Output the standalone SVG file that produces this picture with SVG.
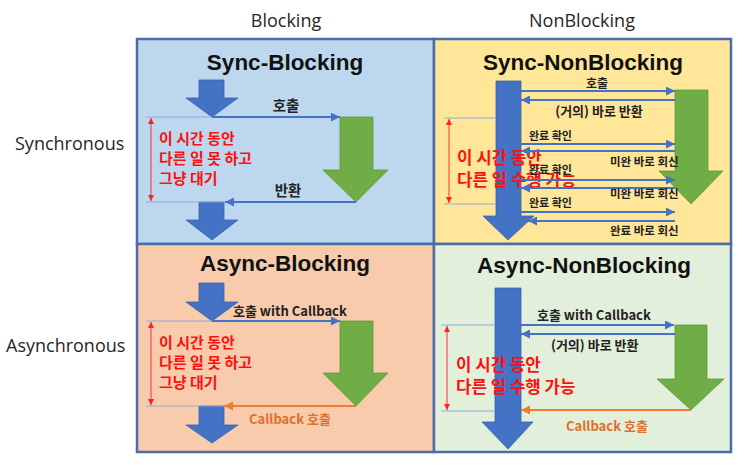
<svg xmlns="http://www.w3.org/2000/svg" width="752" height="476" viewBox="0 0 752 476">
<style>
.hdr{font-family:"Open Sans","Noto Sans",sans-serif;font-size:18px;fill:#262626}
.ttl{font-family:"Liberation Sans",Arial,sans-serif;font-weight:bold;font-size:22.5px;fill:#111;text-anchor:middle}
.lbl{font-family:"Noto Sans CJK KR","Noto Sans",sans-serif;font-weight:bold;fill:#222}
.org{font-family:"Noto Sans CJK KR","Noto Sans",sans-serif;font-weight:bold;fill:#E0702A}
.red{font-family:"Noto Sans CJK KR",sans-serif;font-weight:bold;fill:#FF1010}
.cell{stroke:#4A6CA8;stroke-width:2.5}
.blue{fill:#4472C4;stroke:#3A62AA;stroke-width:0.8}
.green{fill:#70AD47;stroke:#5E9A3A;stroke-width:0.8}
.cb{stroke:#4472C4;stroke-width:2.2;fill:none;marker-end:url(#ab)}
.co{stroke:#ED7D31;stroke-width:2.2;fill:none;marker-end:url(#ao)}
.guide{stroke:#8EAADB;stroke-width:1;fill:none}
.rv{stroke:#FF3030;stroke-width:1;fill:none;marker-start:url(#ar);marker-end:url(#ar)}
</style>
<defs>
<marker id="ab" viewBox="0 0 10 10" refX="10" refY="5" markerWidth="10" markerHeight="9" markerUnits="userSpaceOnUse" orient="auto"><path d="M0,0 L10,5 L0,10 z" fill="#4472C4"/></marker>
<marker id="ao" viewBox="0 0 10 10" refX="10" refY="5" markerWidth="10" markerHeight="9" markerUnits="userSpaceOnUse" orient="auto"><path d="M0,0 L10,5 L0,10 z" fill="#ED7D31"/></marker>
<marker id="ar" viewBox="0 0 10 10" refX="10" refY="5" markerWidth="7" markerHeight="6" markerUnits="userSpaceOnUse" orient="auto-start-reverse"><path d="M0,0 L10,5 L0,10 z" fill="#FF2020"/></marker>
</defs>
<rect width="752" height="476" fill="#FFFFFF"/>

<g id="headers">
<text class="hdr" x="286" y="27" text-anchor="middle">Blocking</text>
<text class="hdr" x="582" y="27" text-anchor="middle">NonBlocking</text>
<text class="hdr" x="15" y="150">Synchronous</text>
<text class="hdr" x="6" y="352">Asynchronous</text>
</g>

<g id="sync-blocking">
<rect class="cell" x="137" y="39" width="297" height="205" fill="#BDD7EE"/>
<text class="ttl" x="285" y="70">Sync-Blocking</text>
<polygon class="blue" points="199,80 224,80 224,98 238,98 212,117 186,98 199,98"/>
<polygon class="green" points="340,117 373,117 373,170 388,170 356,202 323,170 340,170"/>
<polygon class="blue" points="199,202 224,202 224,220 238,220 212,240 186,220 199,220"/>
<text class="red" font-size="15" x="159"><tspan x="159" y="144">이 시간 동안</tspan><tspan x="159" y="164">다른 일 못 하고</tspan><tspan x="159" y="184">그냥 대기</tspan></text>
</g>

<g id="sync-nonblocking">
<rect class="cell" x="434" y="39" width="297" height="205" fill="#FFE699"/>
<text class="ttl" x="583" y="70">Sync-NonBlocking</text>
<polygon class="blue" points="496,81 521,81 521,216 534,216 508,240 483,216 496,216"/>
<polygon class="green" points="675,90 708,90 708,171 723,171 691,204 659,171 675,171"/>
<text class="red" font-size="16.8" x="457"><tspan x="457" y="164">이 시간 동안</tspan><tspan x="457" y="186">다른 일 수행 가능</tspan></text>
</g>

<g id="async-blocking">
<rect class="cell" x="137" y="244" width="297" height="208" fill="#F8CBAD"/>
<text class="ttl" x="285" y="271">Async-Blocking</text>
<polygon class="blue" points="199,283 224,283 224,302 238,302 212,321 186,302 199,302"/>
<polygon class="green" points="340,321 373,321 373,373 388,373 356,406 323,373 340,373"/>
<polygon class="blue" points="199,406 224,406 224,425 238,425 212,443 186,425 199,425"/>
<text class="red" font-size="15" x="159"><tspan x="159" y="348">이 시간 동안</tspan><tspan x="159" y="368">다른 일 못 하고</tspan><tspan x="159" y="388">그냥 대기</tspan></text>
</g>

<g id="async-nonblocking">
<rect class="cell" x="434" y="244" width="297" height="208" fill="#E2EFDA"/>
<text class="ttl" x="584" y="273">Async-NonBlocking</text>
<polygon class="blue" points="495,288 521,288 521,422 533,422 508,449 482,422 495,422"/>
<polygon class="green" points="675,325 707,325 707,379 724,379 691,410 657,379 675,379"/>
<text class="red" font-size="16.8" x="456"><tspan x="456" y="371">이 시간 동안</tspan><tspan x="456" y="393">다른 일 수행 가능</tspan></text>
</g>

<g id="connectors">
<!-- sync-blocking -->
<line class="guide" x1="146" y1="117" x2="212" y2="117"/>
<line class="guide" x1="146" y1="202" x2="226" y2="202"/>
<line class="rv" x1="151" y1="118" x2="151" y2="201"/>
<line class="cb" x1="212" y1="117" x2="340" y2="117"/>
<line class="cb" x1="356" y1="202" x2="225" y2="202"/>
<!-- sync-nonblocking -->
<line class="guide" x1="444" y1="118" x2="496" y2="118"/>
<line class="guide" x1="444" y1="204" x2="496" y2="204"/>
<line class="rv" x1="449" y1="119" x2="449" y2="203"/>
<line class="cb" x1="521" y1="91" x2="675" y2="91"/>
<line class="cb" x1="675" y1="100" x2="521" y2="100"/>
<line class="cb" x1="521" y1="144" x2="675" y2="144"/>
<line class="cb" x1="675" y1="151" x2="521" y2="151"/>
<line class="cb" x1="521" y1="180" x2="675" y2="180"/>
<line class="cb" x1="675" y1="188" x2="521" y2="188"/>
<line class="cb" x1="521" y1="212" x2="675" y2="212"/>
<line class="cb" x1="675" y1="221" x2="528" y2="221"/>
<!-- async-blocking -->
<line class="guide" x1="146" y1="321" x2="212" y2="321"/>
<line class="guide" x1="146" y1="406" x2="225" y2="406"/>
<line class="rv" x1="151" y1="322" x2="151" y2="405"/>
<line class="cb" x1="212" y1="321" x2="340" y2="321"/>
<line class="co" x1="356" y1="406" x2="224" y2="406"/>
<!-- async-nonblocking -->
<line class="guide" x1="441" y1="325" x2="495" y2="325"/>
<line class="guide" x1="441" y1="411" x2="495" y2="411"/>
<line class="rv" x1="447" y1="326" x2="447" y2="410"/>
<line class="cb" x1="521" y1="325" x2="674" y2="325"/>
<line class="cb" x1="675" y1="334" x2="521" y2="334"/>
<line class="co" x1="691" y1="410" x2="521" y2="410"/>
</g>

<g id="labels">
<text class="lbl" font-size="14.5" x="286" y="111" text-anchor="middle">호출</text>
<text class="lbl" font-size="14.5" x="288" y="196" text-anchor="middle">반환</text>
<text class="lbl" font-size="12" x="597" y="88" text-anchor="middle">호출</text>
<text class="lbl" font-size="13" x="599" y="116" text-anchor="middle">(거의) 바로 반환</text>
<text class="lbl" font-size="11" x="529" y="140">완료 확인</text>
<text class="lbl" font-size="11.5" x="610" y="166">미완 바로 회신</text>
<text class="lbl" font-size="11" x="529" y="174">완료 확인</text>
<text class="lbl" font-size="11.5" x="610" y="198">미완 바로 회신</text>
<text class="lbl" font-size="11" x="529" y="207">완료 확인</text>
<text class="lbl" font-size="11.5" x="610" y="235">완료 바로 회신</text>
<text class="lbl" font-size="13" x="233" y="316">호출 with Callback</text>
<text class="org" font-size="13" x="249" y="424">Callback 호출</text>
<text class="lbl" font-size="13" x="537" y="320">호출 with Callback</text>
<text class="lbl" font-size="13" x="551" y="350">(거의) 바로 반환</text>
<text class="org" font-size="13" x="566" y="431">Callback 호출</text>
</g>
</svg>
